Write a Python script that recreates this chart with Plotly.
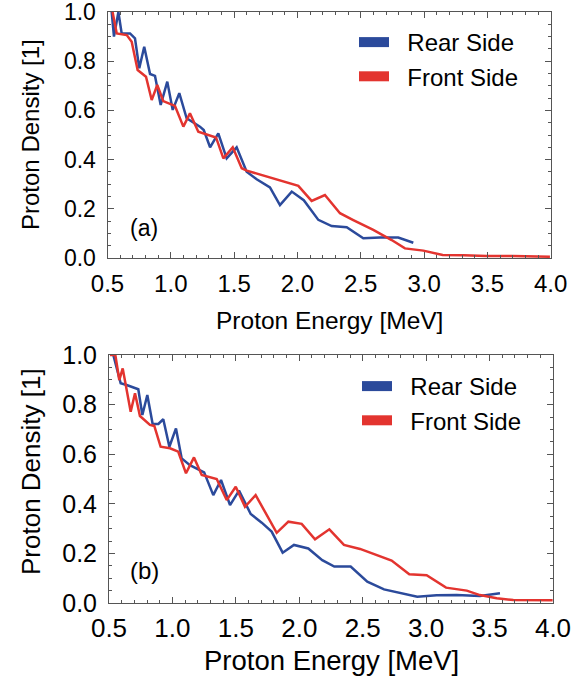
import plotly.graph_objects as go

# ---------------- data ----------------
top_rear_x = [0.533, 0.551, 0.586, 0.612, 0.678, 0.717, 0.751, 0.790, 0.836, 0.875, 0.920, 0.972,
              1.015, 1.067, 1.125, 1.230, 1.260, 1.310, 1.375, 1.441, 1.520, 1.599, 1.678, 1.783,
              1.862, 1.955, 2.050, 2.165, 2.270, 2.389, 2.520, 2.652, 2.796, 2.915]
top_rear_y = [1.000, 0.900, 1.000, 0.913, 0.913, 0.893, 0.771, 0.859, 0.748, 0.740, 0.622, 0.717,
              0.602, 0.670, 0.568, 0.534, 0.520, 0.450, 0.507, 0.405, 0.450, 0.351, 0.320, 0.287,
              0.215, 0.270, 0.235, 0.155, 0.130, 0.125, 0.080, 0.083, 0.083, 0.062]

top_front_x = [0.540, 0.573, 0.652, 0.691, 0.738, 0.804, 0.849, 0.893, 0.940, 1.033, 1.099, 1.151,
               1.217, 1.357, 1.415, 1.489, 1.560, 1.600, 2.007, 2.112, 2.217, 2.336, 2.441, 2.599,
               2.744, 2.849, 2.994, 3.147, 3.310, 3.494, 3.700, 3.994]
top_front_y = [1.000, 0.913, 0.906, 0.879, 0.764, 0.737, 0.642, 0.703, 0.638, 0.618, 0.534, 0.588,
               0.513, 0.490, 0.405, 0.450, 0.365, 0.355, 0.293, 0.232, 0.256, 0.182, 0.154, 0.114,
               0.073, 0.039, 0.030, 0.012, 0.011, 0.008, 0.008, 0.005]

bot_rear_x = [0.534, 0.592, 0.639, 0.731, 0.763, 0.802, 0.844, 0.889, 0.928, 0.976, 1.028, 1.073,
              1.138, 1.250, 1.322, 1.383, 1.454, 1.525, 1.617, 1.704, 1.782, 1.869, 1.958, 2.071,
              2.181, 2.276, 2.405, 2.536, 2.668, 2.794, 2.930, 3.083, 3.241, 3.424, 3.582]
bot_rear_y = [1.000, 0.886, 0.879, 0.862, 0.758, 0.839, 0.722, 0.722, 0.741, 0.630, 0.704, 0.583,
              0.556, 0.527, 0.435, 0.496, 0.395, 0.453, 0.359, 0.324, 0.288, 0.203, 0.234, 0.220,
              0.173, 0.147, 0.147, 0.086, 0.055, 0.042, 0.025, 0.031, 0.032, 0.028, 0.039]

bot_front_x = [0.508, 0.550, 0.581, 0.608, 0.671, 0.705, 0.744, 0.823, 0.857, 0.907, 0.981, 1.046,
               1.107, 1.170, 1.231, 1.349, 1.428, 1.499, 1.572, 1.656, 1.822, 1.914, 2.019, 2.124,
               2.237, 2.352, 2.479, 2.610, 2.728, 2.867, 3.004, 3.157, 3.320, 3.424, 3.556, 3.687,
               3.845, 3.997]
bot_front_y = [1.000, 1.000, 0.899, 0.946, 0.771, 0.846, 0.754, 0.718, 0.714, 0.630, 0.624, 0.610,
               0.523, 0.587, 0.516, 0.500, 0.415, 0.469, 0.388, 0.435, 0.283, 0.328, 0.319, 0.257,
               0.297, 0.234, 0.218, 0.194, 0.171, 0.116, 0.112, 0.062, 0.050, 0.032, 0.019, 0.012,
               0.011, 0.011]

series_names = ["Rear Side", "Front Side"]
panel_labels = ["(a)", "(b)"]
x_title = "Proton Energy [MeV]"
y_title = "Proton Density [1]"

# ---------------- styling ----------------
W, H = 587, 677
BLUE = "#2b4a9b"
RED = "#e3342f"
FONT = "Liberation Sans, Arial, Helvetica, sans-serif"
AX = "#555555"
NBSP = "\u00a0"


def px(x):
    return x / W


def py(y):
    return 1 - y / H


fig = go.Figure()

panels = [
    dict(xa="x", ya="y", rear=(top_rear_x, top_rear_y), front=(top_front_x, top_front_y), legend="legend"),
    dict(xa="x2", ya="y2", rear=(bot_rear_x, bot_rear_y), front=(bot_front_x, bot_front_y), legend="legend2"),
]

for p in panels:
    fig.add_trace(go.Scatter(x=p["rear"][0], y=p["rear"][1], mode="lines",
                             line=dict(color=BLUE, width=2.5), xaxis=p["xa"], yaxis=p["ya"],
                             showlegend=False, hoverinfo="skip"))
    fig.add_trace(go.Scatter(x=p["front"][0], y=p["front"][1], mode="lines",
                             line=dict(color=RED, width=2.5), xaxis=p["xa"], yaxis=p["ya"],
                             showlegend=False, hoverinfo="skip"))
    # legend swatches
    for name, col in zip(series_names, [BLUE, RED]):
        fig.add_trace(go.Scatter(x=[None], y=[None], mode="lines", name=NBSP * 2 + name,
                                 line=dict(color=col, width=13), xaxis=p["xa"], yaxis=p["ya"],
                                 legend=p["legend"], showlegend=True))

# frames (pixel positions)
top = dict(l=107.5, r=550.7, t=12, b=258, xtick=24, ytick=23, title=24.5, ytitle=24, lab=23, xso=4)
bot = dict(l=109, r=553, t=355, b=603, xtick=26, ytick=25, title=27.5, ytitle=26, lab=24, xso=2)


def xaxis_cfg(f, anchor):
    return dict(domain=[px(f["l"]), px(f["r"])], anchor=anchor, range=[0.5, 4.0],
                tick0=0.5, dtick=0.5, tickformat=".1f", showgrid=False, zeroline=False,
                showline=True, mirror="allticks", linecolor=AX, linewidth=1,
                ticks="inside", ticklen=6, tickcolor=AX, tickwidth=1,
                ticklabelstandoff=f["xso"], automargin=False, ticklabeloverflow="allow",
                minor=dict(dtick=0.1, tick0=0.5, ticks="inside", ticklen=3, tickcolor=AX, showgrid=False),
                tickfont=dict(family=FONT, size=f["xtick"], color="black"))


def yaxis_cfg(f, anchor):
    return dict(domain=[py(f["b"]), py(f["t"])], anchor=anchor, range=[0, 1.0],
                tick0=0, dtick=0.2, tickformat=".1f", showgrid=False, zeroline=False,
                showline=True, mirror="allticks", linecolor=AX, linewidth=1,
                ticks="inside", ticklen=6, tickcolor=AX, tickwidth=1,
                ticklabelstandoff=6, automargin=False, ticklabeloverflow="allow",
                minor=dict(dtick=0.05, tick0=0, ticks="inside", ticklen=3, tickcolor=AX, showgrid=False),
                tickfont=dict(family=FONT, size=f["ytick"], color="black"))


annotations = []
for f, lab, xt_y, yl_y, lab_y in [(top, panel_labels[0], 320, 135, 228), (bot, panel_labels[1], 660, 472, 570)]:
    cx = (f["l"] + f["r"]) / 2
    annotations.append(dict(text=x_title, x=px(cx), y=py(xt_y), xref="paper", yref="paper",
                            xanchor="center", yanchor="middle", showarrow=False,
                            font=dict(family=FONT, size=f["title"], color="black")))
    annotations.append(dict(text=y_title, x=px(31), y=py(yl_y), xref="paper", yref="paper",
                            xanchor="center", yanchor="middle", showarrow=False, textangle=-90,
                            font=dict(family=FONT, size=f["ytitle"], color="black")))
    annotations.append(dict(text=lab, x=px(144), y=py(lab_y), xref="paper", yref="paper",
                            xanchor="center", yanchor="middle", showarrow=False,
                            font=dict(family=FONT, size=f["lab"], color="black")))

fig.update_layout(
    width=W, height=H,
    margin=dict(l=0, r=0, t=0, b=0, pad=0, autoexpand=False),
    paper_bgcolor="white", plot_bgcolor="white",
    xaxis=xaxis_cfg(top, "y"), yaxis=yaxis_cfg(top, "x"),
    xaxis2=xaxis_cfg(bot, "y2"), yaxis2=yaxis_cfg(bot, "x2"),
    legend=dict(x=px(354), y=py(20), xanchor="left", yanchor="top", bgcolor="rgba(0,0,0,0)",
                font=dict(family=FONT, size=24, color="black"), tracegroupgap=0),
    legend2=dict(x=px(357), y=py(364), xanchor="left", yanchor="top", bgcolor="rgba(0,0,0,0)",
                 font=dict(family=FONT, size=24, color="black"), tracegroupgap=0),
    annotations=annotations,
    showlegend=True,
)

fig.write_html("out.html", config={"displayModeBar": False},
               post_script="document.body.style.margin='0px';")
